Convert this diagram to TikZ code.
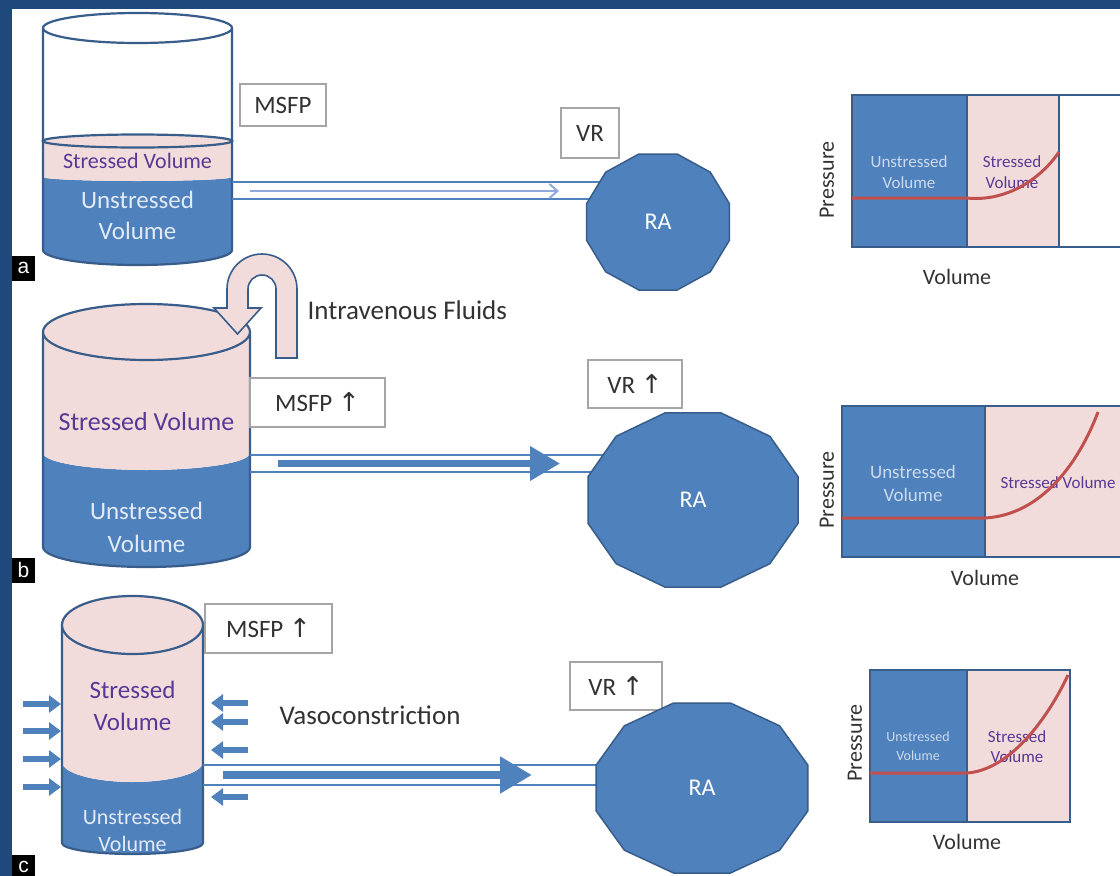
\documentclass[tikz,border=0pt]{standalone}
\usepackage{fontspec}
\setmainfont{Carlito}
\newfontfamily\arrowfont{DejaVu Sans}
\newfontfamily\tagfont{Liberation Sans}
\usetikzlibrary{arrows.meta}
\definecolor{bordernavy}{RGB}{31, 73, 125}
\definecolor{volblue}{RGB}{79, 129, 189}
\definecolor{edgeblue}{RGB}{56, 93, 138}
\definecolor{stressedpink}{RGB}{242, 220, 219}
\definecolor{stressedtext}{RGB}{88, 56, 150}
\definecolor{unstressedtext}{RGB}{226, 234, 245}
\definecolor{curvered}{RGB}{192, 80, 77}
\definecolor{textgray}{RGB}{50, 50, 50}
\definecolor{boxgray}{RGB}{165, 165, 165}
\definecolor{flowlight}{RGB}{142, 169, 219}
\newcommand{\rises}{{\arrowfont\fontsize{26}{30}\selectfont ↑}}

\begin{document}
\begin{tikzpicture}[
        x=1pt, y=-1pt,
        vessel/.style={draw=edgeblue, line width=2.2pt},
        chamber/.style={fill=volblue, draw=edgeblue, line width=1.5pt},
        ratext/.style={text=white, font=\fontsize{24}{28}\selectfont},
        valuebox/.style={rectangle, draw=boxgray, line width=1.2pt, fill=white, text=textgray, inner sep=0pt, font=\fontsize{25}{30}\selectfont},
        pipe/.style={draw=volblue, line width=2.5pt},
        thinflow/.style={flowlight, line width=2pt, -{Straight Barb[length=8pt, width=14pt]}},
        flow/.style={volblue, line width=7pt, -{Triangle[length=30pt, width=33pt]}},
        squeeze/.style={volblue, line width=6.5pt, -{Triangle[length=12pt, width=17pt]}},
        stressed/.style={text=stressedtext, align=center},
        unstressed/.style={text=unstressedtext, align=center},
        axislabel/.style={text=textgray, font=\fontsize{22}{26}\selectfont},
        caption/.style={text=textgray, anchor=west, font=\fontsize{27}{32}\selectfont},
        paneltag/.style={rectangle, fill=black, text=white, minimum width=23pt, minimum height=25pt, inner sep=0pt, font=\tagfont\fontsize{21}{24}\selectfont},
        curve/.style={draw=curvered, line width=3pt}
    ]
    \useasboundingbox (0,0) rectangle (1120,876);
    \fill[white] (0,0) rectangle (1120,876);

    % Frame
    \fill[bordernavy] (0,0) rectangle (1120,9);
    \fill[bordernavy] (0,0) rectangle (12,876);

    % Panel tags
    \node[paneltag] (tag-a) at (23.5,268) {a};
    \node[paneltag] (tag-b) at (23.5,570) {b};
    \node[paneltag] (tag-c) at (23.5,867) {c};

    % ---------- a: baseline ----------
    \fill[volblue] (43,177) -- (43,250) arc[start angle=180, end angle=0, x radius=94.5, y radius=15] -- (232,177) arc[start angle=0, end angle=180, x radius=94.5, y radius=4] -- cycle;
    \fill[stressedpink] (43,141) -- (43,177) arc[start angle=180, end angle=0, x radius=94.5, y radius=4] -- (232,141) -- cycle;
    \draw[vessel, fill=stressedpink] (137.5,141) ellipse[x radius=94.5, y radius=6.5];
    \draw[vessel] (43,28) -- (43,250) arc[start angle=180, end angle=0, x radius=94.5, y radius=15] -- (232,28);
    \draw[vessel] (137.5,28) ellipse[x radius=94.5, y radius=15];
    \node[stressed, font=\fontsize{22}{26}\selectfont] (sv-a) at (137.5,161) {Stressed Volume};
    \node[unstressed, font=\fontsize{25}{31}\selectfont] (uv-a) at (137.5,215) {Unstressed\\Volume};

    \node[valuebox, minimum width=86pt, minimum height=42pt] (msfp-a) at (283,105) {MSFP};
    \node[valuebox, minimum width=58pt, minimum height=50pt] (vr-a) at (590,133) {VR};

    \coordinate (ra-a) at (658,222);
    \coordinate (pipe-a-top) at (232,182);
    \coordinate (pipe-a-bot) at (232,199);
    \coordinate (flow-a) at (250,191);
    \draw[pipe] (pipe-a-top) -- (pipe-a-top -| ra-a);
    \draw[pipe] (pipe-a-bot) -- (pipe-a-bot -| ra-a);
    \draw[thinflow] (flow-a) -- ++(309,0);
    \draw[chamber, shift={(ra-a)}] plot[samples at={15,45,...,345}] (\x:74 and 70.4) -- cycle;
    \node[ratext] (ra-a-text) at (ra-a) {RA};

    \fill[volblue] (852,95) rectangle (967,247);
    \fill[stressedpink] (967,95) rectangle (1059,247);
    \draw[vessel, line width=2.6pt] (852,95) rectangle (1140,247);
    \draw[vessel, line width=2.6pt] (967,95) -- (967,247) (1059,95) -- (1059,247);
    \node[unstressed, text=unstressedtext!85!volblue, font=\fontsize{17}{21}\selectfont] (gu-a) at (909,172) {Unstressed\\Volume};
    \node[stressed, font=\fontsize{17}{21}\selectfont] (gs-a) at (1012,172) {Stressed\\Volume};
    \draw[curve] (852,198) -- (967,198) .. controls (1005,202) and (1040,180) .. (1059,152);
    \node[axislabel, rotate=90] (p-a) at (827,180) {Pressure};
    \node[axislabel] (v-a) at (957,277) {Volume};

    % ---------- b: intravenous fluids ----------
    \fill[volblue] (43,453) -- (43,547) arc[start angle=180, end angle=0, x radius=103.5, y radius=20] -- (250,453) arc[start angle=0, end angle=180, x radius=103.5, y radius=17] -- cycle;
    \fill[stressedpink] (43,332) -- (43,453) arc[start angle=180, end angle=0, x radius=103.5, y radius=17] -- (250,332) -- cycle;
    \draw[vessel] (43,332) -- (43,547) arc[start angle=180, end angle=0, x radius=103.5, y radius=20] -- (250,332);
    \draw[vessel, fill=stressedpink] (146.5,332) ellipse[x radius=103.5, y radius=28];
    \node[stressed, font=\fontsize{26}{31}\selectfont] (sv-b) at (146.5,422) {Stressed Volume};
    \node[unstressed, font=\fontsize{25}{33}\selectfont] (uv-b) at (146.5,527) {Unstressed\\Volume};

    % fluid inlet
    \draw[vessel, line width=1.6pt, fill=stressedpink] (276,358) -- (276,289) arc[start angle=0, end angle=-180, radius=14] -- (248,308) -- (261,308) -- (237.5,334) -- (214,308) -- (227,308) -- (227,289) arc[start angle=180, end angle=360, radius=35] -- (297,358) -- cycle;
    \node[caption] (iv) at (304,310) {Intravenous Fluids};

    \node[valuebox, minimum width=135pt, minimum height=49pt] (msfp-b) at (317.5,402.5) {MSFP \rises};
    \node[valuebox, minimum width=94pt, minimum height=48pt] (vr-b) at (635,384) {VR \rises};

    \coordinate (ra-b) at (693,500);
    \coordinate (pipe-b-top) at (250,455);
    \coordinate (pipe-b-bot) at (250,472);
    \coordinate (flow-b) at (278,463.5);
    \draw[pipe] (pipe-b-top) -- (pipe-b-top -| ra-b);
    \draw[pipe] (pipe-b-bot) -- (pipe-b-bot -| ra-b);
    \draw[flow] (flow-b) -- ++(282,0);
    \draw[chamber, shift={(ra-b)}] plot[samples at={15,45,...,345}] (\x:108.7 and 90.1) -- cycle;
    \node[ratext] (ra-b-text) at (ra-b) {RA};

    \fill[volblue] (842,406) rectangle (985,557);
    \fill[stressedpink] (985,406) rectangle (1140,557);
    \draw[vessel, line width=2.6pt] (842,406) rectangle (1140,557);
    \draw[vessel, line width=2.6pt] (985,406) -- (985,557);
    \node[unstressed, text=unstressedtext!85!volblue, font=\fontsize{19}{23}\selectfont] (gu-b) at (913,483) {Unstressed\\Volume};
    \node[stressed, font=\fontsize{17}{21}\selectfont] (gs-b) at (1058,483) {Stressed Volume};
    \draw[curve] (842,518) -- (985,518) .. controls (1040,515) and (1078,465) .. (1098,412);
    \node[axislabel, rotate=90] (p-b) at (827,490) {Pressure};
    \node[axislabel] (v-b) at (985,578) {Volume};

    % ---------- c: vasoconstriction ----------
    \fill[volblue] (62,762) -- (62,843) arc[start angle=180, end angle=0, x radius=70.5, y radius=11] -- (203,762) arc[start angle=0, end angle=180, x radius=70.5, y radius=20] -- cycle;
    \fill[stressedpink] (62,625) -- (62,762) arc[start angle=180, end angle=0, x radius=70.5, y radius=20] -- (203,625) -- cycle;
    \draw[vessel] (62,625) -- (62,843) arc[start angle=180, end angle=0, x radius=70.5, y radius=11] -- (203,625);
    \draw[vessel, fill=stressedpink] (132.5,625) ellipse[x radius=70.5, y radius=29];
    \node[stressed, font=\fontsize{25}{32}\selectfont] (sv-c) at (132.5,706) {Stressed\\Volume};
    \node[unstressed, font=\fontsize{22}{27}\selectfont] (uv-c) at (132.5,830) {Unstressed\\Volume};

    % squeezing from both sides
    \foreach \y in {704,731,759,787} {
        \draw[squeeze] (23,\y) -- (61,\y);
    }
    \foreach \y in {703,722,750,797} {
        \draw[squeeze] (248,\y) -- (211,\y);
    }
    \node[caption] (vaso) at (276,715) {Vasoconstriction};

    \node[valuebox, minimum width=127pt, minimum height=49pt] (msfp-c) at (268.5,628.5) {MSFP \rises};
    \node[valuebox, minimum width=92pt, minimum height=48pt] (vr-c) at (616,686) {VR \rises};

    \coordinate (ra-c) at (702,788);
    \coordinate (pipe-c-top) at (203,765);
    \coordinate (pipe-c-bot) at (203,785);
    \coordinate (flow-c) at (223,775);
    \draw[pipe] (pipe-c-top) -- (pipe-c-top -| ra-c);
    \draw[pipe] (pipe-c-bot) -- (pipe-c-bot -| ra-c);
    \draw[flow, line width=8pt, -{Triangle[length=32pt, width=35pt]}] (flow-c) -- ++(309,0);
    \draw[chamber, shift={(ra-c)}] plot[samples at={15,45,...,345}] (\x:109.7 and 88) -- cycle;
    \node[ratext] (ra-c-text) at (ra-c) {RA};

    \fill[volblue] (870,670) rectangle (967,822);
    \fill[stressedpink] (967,670) rectangle (1070,822);
    \draw[vessel, line width=2.6pt] (870,670) rectangle (1070,822);
    \draw[vessel, line width=2.6pt] (967,670) -- (967,822);
    \node[unstressed, text=unstressedtext!85!volblue, font=\fontsize{14}{19}\selectfont] (gu-c) at (918,746) {Unstressed\\Volume};
    \node[stressed, font=\fontsize{17}{20}\selectfont] (gs-c) at (1017,747) {Stressed\\Volume};
    \draw[curve] (870,773) -- (967,773) .. controls (1010,770) and (1048,718) .. (1068,675);
    \node[axislabel, rotate=90] (p-c) at (855,743) {Pressure};
    \node[axislabel] (v-c) at (967,842) {Volume};

\end{tikzpicture}
\end{document}
